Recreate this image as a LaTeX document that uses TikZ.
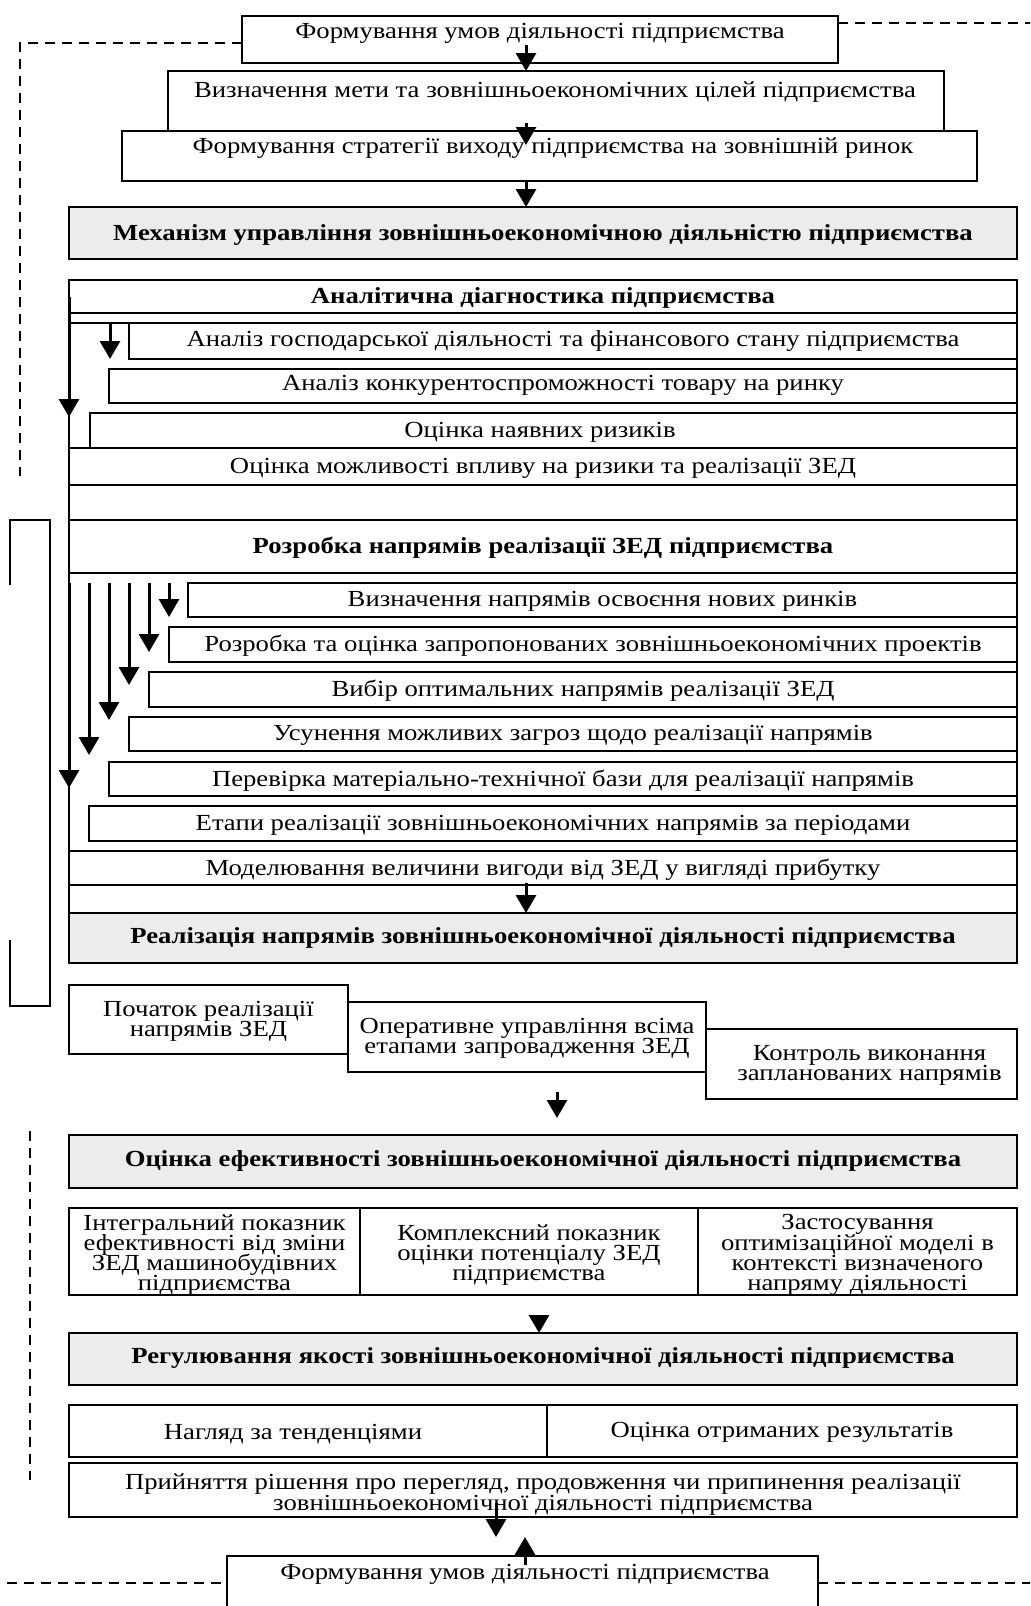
\documentclass[tikz,border=0pt]{standalone}
\usepackage{fontspec}
\setmainfont{Liberation Serif}[FakeStretch=1.16]
\usetikzlibrary{arrows.meta}
\definecolor{boxgray}{RGB}{236,236,236}
\newcommand{\tightfont}{\fontsize{11.5}{10.1}\selectfont\setlength{\lineskiplimit}{-20pt}\setlength{\lineskip}{0pt}}
\tikzset{
  every node/.style={inner sep=0pt, outer sep=0pt},
  bx/.style={draw, line width=1pt, fill=white},
  gbx/.style={draw, line width=1pt, fill=boxgray},
  txt/.style={font=\tightfont, align=center, yshift=-0.8pt},
  btxt/.style={font=\tightfont\bfseries, align=center, yshift=-0.8pt},
  arr/.style={line width=1.5pt, -{Triangle[width=10pt,length=9pt]}},
  bline/.style={line width=1pt},
  dsh/.style={line width=0.9pt, dash pattern=on 5pt off 3.5pt},
}
% \mkbox{name}{box style}{text style}{x1}{y1}{x2}{y2}{text}
\newcommand{\mkbox}[8]{%
  \pgfmathsetmacro{\bxcx}{(#4+#6)/2}%
  \pgfmathsetmacro{\bxcy}{(#5+#7)/2}%
  \pgfmathsetmacro{\bxw}{(#6-#4)*0.5}%
  \pgfmathsetmacro{\bxh}{(#7-#5)*0.5}%
  \node[#2, minimum width=\bxw pt, minimum height=\bxh pt] (#1) at (\bxcx,\bxcy) {};
  \node[#3] (#1t) at (#1.center) {#8};}
\begin{document}
\begin{tikzpicture}[x=0.5pt,y=-0.5pt]
\useasboundingbox (0,0) rectangle (1030,1606);
\clip (0,0) rectangle (1030,1606);
% ---------- top part
\mkbox{A}{bx}{txt}{242}{16}{838}{63}{}
\node[txt] (Atx) at (540,32) {Формування умов діяльності підприємства};
\mkbox{B}{bx}{txt}{168}{71}{944}{131}{}
\node[txt] (Btx) at (555,90) {Визначення мети та зовнішньоекономічних цілей підприємства};
\mkbox{C}{bx}{txt}{122}{131}{977}{181}{}
\node[txt] (Ctx) at (553,147) {Формування стратегії виходу підприємства на зовнішній ринок};
\coordinate (a1) at (526,45);
\draw[arr] (a1) -- (a1 |- B.north);
\coordinate (a2) at (526,123);
\coordinate (a2e) at (526,145);
\draw[arr] (a2) -- (a2e);
\mkbox{mech}{gbx}{btxt}{69}{207}{1017}{259}{Механізм управління зовнішньоекономічною діяльністю підприємства}
\draw[arr] (a1 |- C.south) -- (a1 |- mech.north);
% dashed feedback at top
\coordinate (dtr) at (1040,23);
\draw[dsh] (A.east |- dtr) -- (dtr);
\coordinate (dtl) at (20,43);
\coordinate (dtb) at (20,476);
\draw[dsh] (A.west |- dtl) -- (dtl) -- (dtb);
% ---------- big frame
\mkbox{frame}{bx}{txt}{69}{280}{1017}{963}{}
\mkbox{anal}{bx}{btxt}{69}{280}{1017}{313}{Аналітична діагностика підприємства}
\mkbox{ag}{bx}{txt,yshift=1pt}{129}{323}{1017}{359}{Аналіз господарської діяльності та фінансового стану підприємства}
\draw[bline] (frame.west |- ag.north) -- (ag.north west);
\mkbox{ak}{bx}{txt,yshift=1pt}{109}{369}{1017}{403}{Аналіз конкурентоспроможності товару на ринку}
\mkbox{on}{bx}{txt}{90}{413}{1017}{448}{}
\node[txt] (ontx) at (540,431) {Оцінка наявних ризиків};
\mkbox{om}{bx}{txt}{69}{448}{1017}{485}{Оцінка можливості впливу на ризики та реалізації ЗЕД}
\mkbox{e1}{bx}{txt}{69}{485}{1017}{520}{}
\mkbox{rozr}{bx}{btxt}{69}{520}{1017}{573}{Розробка напрямів реалізації ЗЕД підприємства}
\mkbox{s1}{bx}{txt}{188}{583}{1017}{617}{Визначення напрямів освоєння нових ринків}
\mkbox{s2}{bx}{txt}{169}{627}{1017}{662}{Розробка та оцінка запропонованих зовнішньоекономічних проектів}
\mkbox{s3}{bx}{txt}{149}{672}{1017}{707}{Вибір оптимальних напрямів реалізації ЗЕД}
\mkbox{s4}{bx}{txt}{129}{717}{1017}{751}{Усунення можливих загроз щодо реалізації напрямів}
\mkbox{s5}{bx}{txt}{109}{762}{1017}{796}{Перевірка матеріально-технічної бази для реалізації напрямів}
\mkbox{s6}{bx}{txt}{89}{806}{1017}{841}{Етапи реалізації зовнішньоекономічних напрямів за періодами}
\mkbox{model}{bx}{txt}{69}{851}{1017}{885}{Моделювання величини вигоди від ЗЕД у вигляді прибутку}
\mkbox{e2}{bx}{txt}{69}{885}{1017}{913}{}
\mkbox{real}{gbx}{btxt,yshift=1pt}{69}{913}{1017}{963}{Реалізація напрямів зовнішньоекономічної діяльності підприємства}
% arrows in the analytic block
\coordinate (g1s) at (69,297); \coordinate (g1e) at (69,417);
\draw[arr] (g1s) -- (g1e);
\coordinate (g2s) at (110,323); \coordinate (g2e) at (110,359);
\draw[arr] (g2s) -- (g2e);
% arrows in the development block
\foreach \ax/\ay in {69/788, 89/755, 109/720, 129/685, 149/652, 169/617}{
  \coordinate (hs\ax) at (\ax,583);
  \coordinate (he\ax) at (\ax,\ay);
  \draw[arr] (hs\ax) -- (he\ax);
}
\coordinate (m1) at (526,883);
\draw[arr] (m1) -- (m1 |- real.north);
% left bracket
\draw[bline] (10,585) -- (10,520) -- (50,520) -- (50,1006) -- (10,1006) -- (10,940);
% ---------- realization steps
\mkbox{p1}{bx}{txt}{69}{985}{348}{1054}{Початок реалізації\\напрямів ЗЕД}
\mkbox{p2}{bx}{txt}{348}{1002}{706}{1072}{Оперативне управління всіма\\етапами запровадження ЗЕД}
\mkbox{p3}{bx}{txt,xshift=4pt}{706}{1029}{1017}{1099}{Контроль виконання\\запланованих напрямів}
\coordinate (r1s) at (557,1092); \coordinate (r1e) at (557,1118);
\draw[arr] (r1s) -- (r1e);
% ---------- evaluation
\mkbox{ocin}{gbx}{btxt,yshift=1pt}{69}{1135}{1017}{1188}{Оцінка ефективності зовнішньоекономічної діяльності підприємства}
\mkbox{c1}{bx}{txt,yshift=-1pt}{69}{1208}{360}{1295}{Інтегральний показник\\ефективності від зміни\\ЗЕД машинобудівних\\підприємства}
\mkbox{c2}{bx}{txt,yshift=-1pt}{360}{1208}{698}{1295}{Комплексний показник\\оцінки потенціалу ЗЕД\\підприємства}
\mkbox{c3}{bx}{txt,yshift=-1pt}{698}{1208}{1017}{1295}{Застосування\\оптимізаційної моделі в\\контексті визначеного\\напряму діяльності}
\mkbox{regul}{gbx}{btxt,yshift=1.5pt}{69}{1333}{1017}{1385}{Регулювання якості зовнішньоекономічної діяльності підприємства}
\coordinate (t1) at (539,1316);
\draw[arr] (t1) -- (t1 |- regul.north);
\mkbox{n1}{bx}{txt}{69}{1405}{547}{1457}{}
\node[txt] (n1tx) at (293,1432) {Нагляд за тенденціями};
\mkbox{n2}{bx}{txt}{547}{1405}{1017}{1457}{Оцінка отриманих результатів}
\mkbox{pr}{bx}{txt,yshift=-1.5pt}{69}{1463}{1017}{1517}{Прийняття рішення про перегляд, продовження чи припинення реалізації\\зовнішньоекономічної діяльності підприємства}
% dashed left line lower
\coordinate (dl1) at (30,1131); \coordinate (dl2) at (30,1480);
\draw[dsh] (dl1) -- (dl2);
% ---------- bottom box
\mkbox{F}{bx}{txt}{227}{1556}{818}{1640}{}
\node[txt] (Ftx) at (525,1573) {Формування умов діяльності підприємства};
\coordinate (u1) at (496,1503); \coordinate (u1e) at (496,1537);
\draw[arr] (u1) -- (u1e);
\coordinate (u2) at (525,1565); \coordinate (u2e) at (525,1537);
\draw[arr] (u2) -- (u2e);
\coordinate (dbl) at (-10,1583); \coordinate (dbr) at (1040,1583);
\draw[dsh] (dbl) -- (F.west |- dbl);
\draw[dsh] (F.east |- dbr) -- (dbr);
\end{tikzpicture}
\end{document}
